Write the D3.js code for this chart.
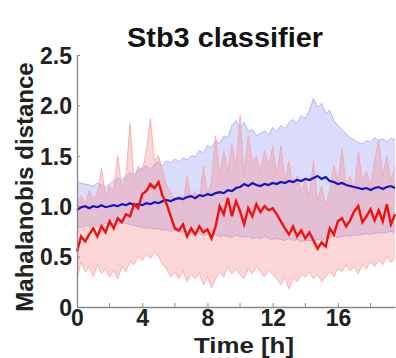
<!DOCTYPE html>
<html><head><meta charset="utf-8">
<script src="https://cdn.jsdelivr.net/npm/d3@7"></script>
<style>body{margin:0;background:#fff}svg{display:block}text{font-family:"Liberation Sans",Arial,sans-serif;font-weight:bold}</style>
</head><body>
<svg id="c" width="396" height="358"></svg>
<script>
const step = 0.25; // hours between samples
const xTicks = [0, 4, 8, 12, 16];
const xMinorTicks = [2, 6, 10, 14, 18];
const yTicks = [0, 0.5, 1.0, 1.5, 2.0, 2.5];
const yTickLabels = ["0", "0.5", "1.0", "1.5", "2.0", "2.5"];

const blueMean = [0.96,0.99,1.00,0.98,1.00,0.99,1.01,0.99,1.00,
 1.01,1.00,1.02,1.01,1.03,1.01,1.02,1.01,
 1.03,1.02,1.04,1.03,1.05,1.06,1.05,1.07,
 1.08,1.07,1.09,1.10,1.08,1.11,1.10,1.12,
 1.11,1.13,1.14,1.13,1.16,1.15,1.18,1.19,
 1.22,1.20,1.23,1.21,1.20,1.22,1.21,1.23,
 1.22,1.24,1.23,1.25,1.24,1.26,1.25,1.27,
 1.26,1.28,1.30,1.27,1.29,1.25,1.24,1.22,
 1.23,1.21,1.20,1.19,1.18,1.17,1.18,1.16,
 1.18,1.19,1.17,1.19,1.20,1.18];
const blueUpper = [1.24,1.23,1.22,1.21,1.20,1.23,1.21,1.19,1.22,
 1.25,1.28,1.26,1.30,1.33,1.31,1.36,1.38,
 1.40,1.37,1.42,1.44,1.40,1.45,1.43,1.47,
 1.44,1.48,1.46,1.50,1.49,1.55,1.53,1.60,
 1.58,1.65,1.62,1.70,1.68,1.80,1.85,1.78,
 1.83,1.74,1.76,1.70,1.72,1.75,1.71,1.78,
 1.74,1.80,1.77,1.83,1.86,1.82,1.90,1.87,
 1.95,2.07,1.98,2.02,1.92,1.95,1.85,1.80,
 1.76,1.72,1.68,1.66,1.63,1.62,1.65,1.64,
 1.68,1.65,1.67,1.64,1.67,1.66];
const blueLower = [0.80,0.79,0.81,0.80,0.82,0.80,0.81,0.83,0.82,
 0.83,0.82,0.84,0.83,0.82,0.81,0.80,0.79,
 0.78,0.79,0.77,0.78,0.76,0.77,0.75,0.76,
 0.74,0.75,0.73,0.74,0.72,0.73,0.71,0.72,
 0.71,0.72,0.70,0.71,0.70,0.69,0.71,0.70,
 0.69,0.70,0.68,0.69,0.68,0.70,0.68,0.67,
 0.68,0.67,0.66,0.68,0.66,0.67,0.65,0.66,
 0.66,0.65,0.67,0.66,0.68,0.69,0.70,0.69,
 0.70,0.71,0.70,0.72,0.71,0.72,0.73,0.72,
 0.73,0.74,0.73,0.74,0.75,0.74];
const redMean = [0.55,0.70,0.65,0.72,0.78,0.70,0.80,0.74,0.85,
 0.78,0.88,0.84,0.92,0.90,1.02,0.98,1.12,
 1.15,1.22,1.18,1.24,1.10,1.02,0.90,0.78,
 0.76,0.82,0.70,0.78,0.72,0.80,0.74,0.77,
 0.68,0.80,1.00,0.92,1.08,0.90,1.05,0.95,
 0.82,0.98,0.90,1.02,0.94,1.00,0.96,0.98,
 0.92,0.85,0.78,0.72,0.80,0.70,0.76,0.68,
 0.74,0.66,0.58,0.64,0.60,0.78,0.72,0.85,
 0.88,0.80,0.86,0.95,1.00,0.84,0.90,0.97,
 0.86,0.96,0.85,1.02,0.82,0.92];
const redUpper = [1.05,1.10,1.02,1.15,1.08,1.12,1.38,1.10,1.20,
 1.15,1.50,1.18,1.30,1.82,1.25,1.40,1.35,
 1.55,1.87,1.45,1.50,1.35,1.20,1.15,1.05,
 1.10,1.02,1.30,1.08,1.15,1.05,1.40,1.12,
 1.25,1.70,1.30,1.55,1.35,1.62,1.40,1.90,
 1.30,1.70,1.45,1.50,1.35,1.55,1.40,1.60,
 1.30,1.60,1.25,1.45,1.20,1.30,1.15,1.25,
 1.10,1.45,1.05,1.20,1.00,1.15,1.40,1.25,
 1.57,1.20,1.30,1.15,1.54,1.25,1.35,1.20,
 1.45,1.66,1.30,1.50,1.25,1.40];
const redLower = [0.28,0.45,0.35,0.40,0.30,0.42,0.33,0.38,0.30,
 0.36,0.28,0.40,0.35,0.45,0.42,0.50,0.46,
 0.52,0.48,0.55,0.50,0.42,0.38,0.30,0.35,
 0.28,0.36,0.25,0.32,0.28,0.34,0.22,0.30,
 0.19,0.28,0.35,0.30,0.40,0.33,0.38,0.32,
 0.28,0.38,0.33,0.40,0.35,0.30,0.36,0.32,
 0.28,0.22,0.30,0.18,0.28,0.25,0.32,0.30,
 0.35,0.28,0.32,0.25,0.30,0.35,0.30,0.38,
 0.35,0.42,0.36,0.40,0.33,0.42,0.38,0.45,
 0.40,0.47,0.42,0.50,0.44,0.48];

const svg = d3.select("#c");
const x = d3.scaleLinear().domain([0, 19.5]).range([77, 395]);
const y = d3.scaleLinear().domain([0, 2.5]).range([307, 55]);
const t = i => i * step;

const area = (lo, hi) => d3.area().x((d, i) => x(t(i))).y0((d, i) => y(lo[i])).y1((d, i) => y(hi[i]));
const line = () => d3.line().x((d, i) => x(t(i))).y(d => y(d));

// bands
svg.append("path").attr("d", area(blueLower, blueUpper)(blueMean))
  .attr("fill", "#8f8ff2").attr("fill-opacity", 0.32).attr("stroke", "none");
svg.append("path").attr("d", line()(blueUpper)).attr("fill", "none").attr("stroke", "#a8a8ee").attr("stroke-width", 0.8);
svg.append("path").attr("d", line()(blueLower)).attr("fill", "none").attr("stroke", "#a8a8ee").attr("stroke-width", 0.8);

svg.append("path").attr("d", area(redLower, redUpper)(redMean))
  .attr("fill", "#f58a8a").attr("fill-opacity", 0.35).attr("stroke", "none");
svg.append("path").attr("d", line()(redUpper)).attr("fill", "none").attr("stroke", "#f2a6a6").attr("stroke-width", 0.8);
svg.append("path").attr("d", line()(redLower)).attr("fill", "none").attr("stroke", "#f2a6a6").attr("stroke-width", 0.8);

// mean lines
svg.append("path").attr("d", line()(blueMean)).attr("fill", "none").attr("stroke", "#1414c0").attr("stroke-width", 2.2);
svg.append("path").attr("d", line()(redMean)).attr("fill", "none").attr("stroke", "#f01010").attr("stroke-width", 2.4);

// axes
const axCol = "#888";
const yAxis = svg.append("g").attr("transform", `translate(${x(0)},0)`)
  .call(d3.axisLeft(y).tickValues(yTicks).tickSizeInner(-3).tickSizeOuter(0).tickPadding(5)
    .tickFormat((d, i) => yTickLabels[i]));
yAxis.select(".domain").attr("stroke", axCol).attr("stroke-width", 1.3);
yAxis.selectAll("line").attr("stroke", axCol);
yAxis.selectAll("text").attr("font-size", 23).attr("fill", "#222")
  .attr("font-family", "Liberation Sans, Arial, sans-serif").attr("font-weight", "bold").attr("dy", "0.36em");

const xAxis = svg.append("g").attr("transform", `translate(0,${y(0)})`)
  .call(d3.axisBottom(x).tickValues(xTicks).tickSizeInner(-4).tickSizeOuter(0).tickPadding(3)
    .tickFormat(d3.format("d")));
xAxis.select(".domain").attr("stroke", axCol).attr("stroke-width", 1.3);
xAxis.selectAll("line").attr("stroke", axCol);
xAxis.selectAll("text").attr("font-size", 23).attr("fill", "#222")
  .attr("font-family", "Liberation Sans, Arial, sans-serif").attr("font-weight", "bold");
svg.append("g").selectAll("line").data(xMinorTicks).join("line")
  .attr("x1", d => x(d)).attr("x2", d => x(d)).attr("y1", y(0)).attr("y2", y(0) - 4)
  .attr("stroke", axCol);

// texts
svg.append("text").attr("x", 225).attr("y", 47).attr("text-anchor", "middle")
  .attr("font-size", 27).attr("fill", "#111").attr("textLength", 196)
  .attr("lengthAdjust", "spacingAndGlyphs").text("Stb3 classifier");
svg.append("text").attr("x", 244).attr("y", 353).attr("text-anchor", "middle")
  .attr("font-size", 22).attr("fill", "#222").attr("textLength", 100)
  .attr("lengthAdjust", "spacingAndGlyphs").text("Time [h]");
svg.append("text").attr("transform", "translate(33,187) rotate(-90)").attr("text-anchor", "middle")
  .attr("font-size", 24).attr("fill", "#222").text("Mahalanobis distance");
</script>
</body></html>
